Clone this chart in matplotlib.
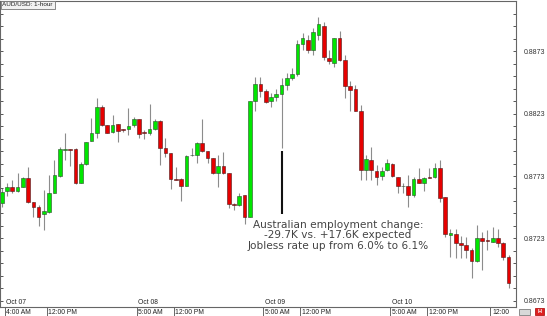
import numpy as np
import matplotlib
matplotlib.use("Agg")
import matplotlib.pyplot as plt
from matplotlib.patches import Rectangle
from matplotlib.ticker import FixedLocator
import matplotlib.transforms as mtransforms

# hourly AUD/USD candles, first bar = Oct 07 4:00 AM
opens = [0.87516, 0.87610, 0.87645, 0.87610, 0.87645, 0.87714, 0.87524, 0.87480, 0.87424, 0.87444,
         0.87596, 0.87730, 0.87940, 0.87944, 0.87944, 0.87677, 0.87826, 0.88013, 0.88072, 0.88281,
         0.88139, 0.88085, 0.88144, 0.88103, 0.88104, 0.88139, 0.88184, 0.88080, 0.88077, 0.88104,
         0.88173, 0.87957, 0.87917, 0.87707, 0.87704, 0.87650, 0.87895, 0.87898, 0.87997, 0.87933,
         0.87872, 0.87752, 0.87810, 0.87752, 0.87507, 0.87498, 0.87578, 0.87404, 0.88333, 0.88467,
         0.88413, 0.88333, 0.88365, 0.88387, 0.88459, 0.88513, 0.88547, 0.88788, 0.88820, 0.88740,
         0.88860, 0.88932, 0.88675, 0.88638, 0.88833, 0.88659, 0.88451, 0.88425, 0.88253, 0.87778,
         0.87858, 0.87773, 0.87730, 0.87778, 0.87826, 0.87725, 0.87647, 0.87650, 0.87578, 0.87704,
         0.87677, 0.87720, 0.87720, 0.87792, 0.87564, 0.87255, 0.87266, 0.87191, 0.87178, 0.87138,
         0.87049, 0.87231, 0.87218, 0.87204, 0.87231, 0.87191, 0.87084]
highs = [0.87634, 0.87674, 0.87698, 0.87754, 0.87722, 0.87805, 0.87524, 0.87498, 0.87618, 0.87738,
         0.87858, 0.87965, 0.88075, 0.87947, 0.87952, 0.87845, 0.88005, 0.88192, 0.88353, 0.88299,
         0.88139, 0.88219, 0.88144, 0.88110, 0.88275, 0.88205, 0.88184, 0.88099, 0.88307, 0.88184,
         0.88179, 0.88035, 0.87917, 0.87802, 0.87712, 0.87898, 0.87955, 0.88005, 0.88184, 0.87933,
         0.87872, 0.87898, 0.87925, 0.87752, 0.87514, 0.87592, 0.87578, 0.88333, 0.88526, 0.88526,
         0.88425, 0.88395, 0.88427, 0.88515, 0.88553, 0.88593, 0.88820, 0.88876, 0.88860, 0.88916,
         0.89004, 0.88964, 0.88740, 0.88833, 0.88894, 0.88700, 0.88494, 0.88459, 0.88299, 0.87898,
         0.87960, 0.87818, 0.87800, 0.87864, 0.87832, 0.87725, 0.87677, 0.87738, 0.87725, 0.87792,
         0.87725, 0.87792, 0.87832, 0.87858, 0.87564, 0.87303, 0.87303, 0.87250, 0.87244, 0.87151,
         0.87338, 0.87284, 0.87298, 0.87321, 0.87303, 0.87204, 0.87097]
lows = [0.87482, 0.87570, 0.87594, 0.87602, 0.87638, 0.87514, 0.87404, 0.87330, 0.87298, 0.87434,
        0.87594, 0.87725, 0.87858, 0.87810, 0.87664, 0.87672, 0.87818, 0.88013, 0.88032, 0.88131,
        0.88072, 0.88072, 0.88005, 0.88085, 0.88059, 0.88125, 0.88035, 0.88027, 0.88059, 0.88099,
        0.87818, 0.87885, 0.87624, 0.87698, 0.87532, 0.87650, 0.87890, 0.87834, 0.87925, 0.87834,
        0.87746, 0.87645, 0.87746, 0.87472, 0.87458, 0.87490, 0.87346, 0.87404, 0.88251, 0.88365,
        0.88317, 0.88285, 0.88333, 0.87952, 0.88419, 0.88499, 0.88531, 0.88740, 0.88716, 0.88700,
        0.88820, 0.88659, 0.88627, 0.88606, 0.88654, 0.88353, 0.88253, 0.88251, 0.87698, 0.87698,
        0.87698, 0.87658, 0.87698, 0.87773, 0.87725, 0.87592, 0.87592, 0.87480, 0.87564, 0.87672,
        0.87612, 0.87712, 0.87712, 0.87524, 0.87244, 0.87084, 0.87071, 0.87071, 0.87071, 0.86911,
        0.87044, 0.86977, 0.87138, 0.87199, 0.87164, 0.87057, 0.86831]
closes = [0.87604, 0.87645, 0.87610, 0.87645, 0.87714, 0.87524, 0.87480, 0.87404, 0.87450, 0.87592,
          0.87738, 0.87944, 0.87944, 0.87940, 0.87672, 0.87826, 0.88005, 0.88077, 0.88281, 0.88139,
          0.88077, 0.88139, 0.88093, 0.88095, 0.88133, 0.88184, 0.88064, 0.88075, 0.88104, 0.88173,
          0.87957, 0.87917, 0.87704, 0.87701, 0.87650, 0.87890, 0.87902, 0.87997, 0.87933, 0.87872,
          0.87752, 0.87810, 0.87752, 0.87506, 0.87501, 0.87570, 0.87404, 0.88333, 0.88467, 0.88413,
          0.88325, 0.88361, 0.88387, 0.88459, 0.88513, 0.88547, 0.88788, 0.88836, 0.88740, 0.88884,
          0.88948, 0.88684, 0.88651, 0.88833, 0.88659, 0.88451, 0.88419, 0.88253, 0.87778, 0.87864,
          0.87778, 0.87725, 0.87773, 0.87832, 0.87730, 0.87650, 0.87653, 0.87578, 0.87704, 0.87677,
          0.87712, 0.87714, 0.87792, 0.87554, 0.87266, 0.87271, 0.87196, 0.87178, 0.87138, 0.87049,
          0.87231, 0.87212, 0.87207, 0.87231, 0.87191, 0.87084, 0.86871]

# x-axis labels: hours after the first bar
time_hours = [0, 8, 25, 32, 49, 56, 73, 80, 92]
time_labels = ["4:00 AM", "12:00 PM", "5:00 AM", "12:00 PM", "5:00 AM", "12:00 PM",
               "5:00 AM", "12:00 PM", "12:00"]
date_hours = [0, 25, 49, 73]
date_labels = ["Oct 07", "Oct 08", "Oct 09", "Oct 10"]

price_labels = [0.8673, 0.8723, 0.8773, 0.8823, 0.8873]
news_hour = 53
news_range = (0.87426, 0.87933)
note = ("Australian employment change:\n"
        "-29.7K vs. +17.6K expected\n"
        "Jobless rate up from 6.0% to 6.1%")

o = np.array(opens)
c = np.array(closes)
h = np.array(highs)
l = np.array(lows)
x = np.arange(len(o))
up = c >= o

W, H = 547, 316
fig = plt.figure(figsize=(W / 100, H / 100), dpi=100, facecolor="white")
ax = fig.add_axes([0, (H - 306.7) / H, 515.7 / W, (306.7 - 1) / H])
ax.set_facecolor("white")

ax.vlines(x, l, h, color="#8c8c8c", linewidth=0.8, zorder=1)
body_lo = np.minimum(o, c)
body_h = np.maximum(np.abs(c - o), 0.00002)
ax.bar(x[up], body_h[up], bottom=body_lo[up], width=0.7,
       color="#00e600", edgecolor="#2b4a2b", linewidth=0.4, zorder=2)
ax.bar(x[~up], body_h[~up], bottom=body_lo[~up], width=0.7,
       color="#e60000", edgecolor="#4a1a1a", linewidth=0.4, zorder=2)

ax.set_xlim(-0.32, 97.35)
ax.set_ylim(0.86683, 0.89132)

# price axis
ax.yaxis.tick_right()
ax.yaxis.set_major_locator(FixedLocator(price_labels))
ax.yaxis.set_minor_locator(FixedLocator(np.arange(0.8663, 0.8915, 0.001)))
ax.set_yticklabels([f"{p:.4f}" for p in price_labels])
ax.tick_params(axis="y", which="both", left=True, right=True, direction="in",
               length=2.5, width=0.7, color="#555555")
ax.tick_params(axis="y", which="major", labelsize=5, labelcolor="#333333", pad=5.5)
for lab in ax.get_yticklabels():
    lab.set_family("Liberation Sans")

# time axis separators below the plot
ax.set_xticks([t + 0.55 for t in time_hours])
ax.tick_params(axis="x", direction="out", length=6.8, width=0.7, color="#666666",
               labelbottom=False)
btrans = mtransforms.blended_transform_factory(ax.transData, ax.transAxes)
for t, lab in zip(time_hours, time_labels):
    ax.text(t + 0.85, -0.0175, lab, transform=btrans, ha="left", va="center",
            fontsize=4.9, family="Liberation Sans", color="#222222", clip_on=False)
for t, lab in zip(date_hours, date_labels):
    ax.text(t + 0.85, 0.013, lab, transform=btrans, ha="left", va="center",
            fontsize=4.9, family="Liberation Sans", color="#222222")

for s in ax.spines.values():
    s.set_color("#666666")
    s.set_linewidth(0.8)

# news marker and note
ax.vlines(news_hour, news_range[0], news_range[1], color="#111111", linewidth=1.5, zorder=3)
ax.text(0.655, 0.233, note, transform=ax.transAxes, ha="center", va="center",
        multialignment="center", fontsize=7.6, color="#444444", linespacing=1.12,
        family="DejaVu Sans")

fig.text(2.5 / W, 1 - 2.5 / H, "AUD/USD: 1-hour", ha="left", va="top", fontsize=4.6,
         family="Liberation Sans", color="#222222",
         bbox=dict(boxstyle="square,pad=0.25", fc="#f2f2f2", ec="#777777", lw=0.6))

# small toolbar icons bottom right
fig.add_artist(Rectangle((519 / W, 1.5 / H), 11 / W, 6 / H, transform=fig.transFigure,
                         fc="#d8d8d8", ec="#666666", lw=0.5))
fig.add_artist(Rectangle((535 / W, 1 / H), 9 / W, 7 / H, transform=fig.transFigure,
                         fc="#dd2020", ec="#aa0000", lw=0.5))
fig.text(539.5 / W, 4.5 / H, "H", ha="center", va="center", fontsize=4,
         color="white", family="Liberation Sans", weight="bold")

fig.savefig("out.png", dpi=100, facecolor="white")
